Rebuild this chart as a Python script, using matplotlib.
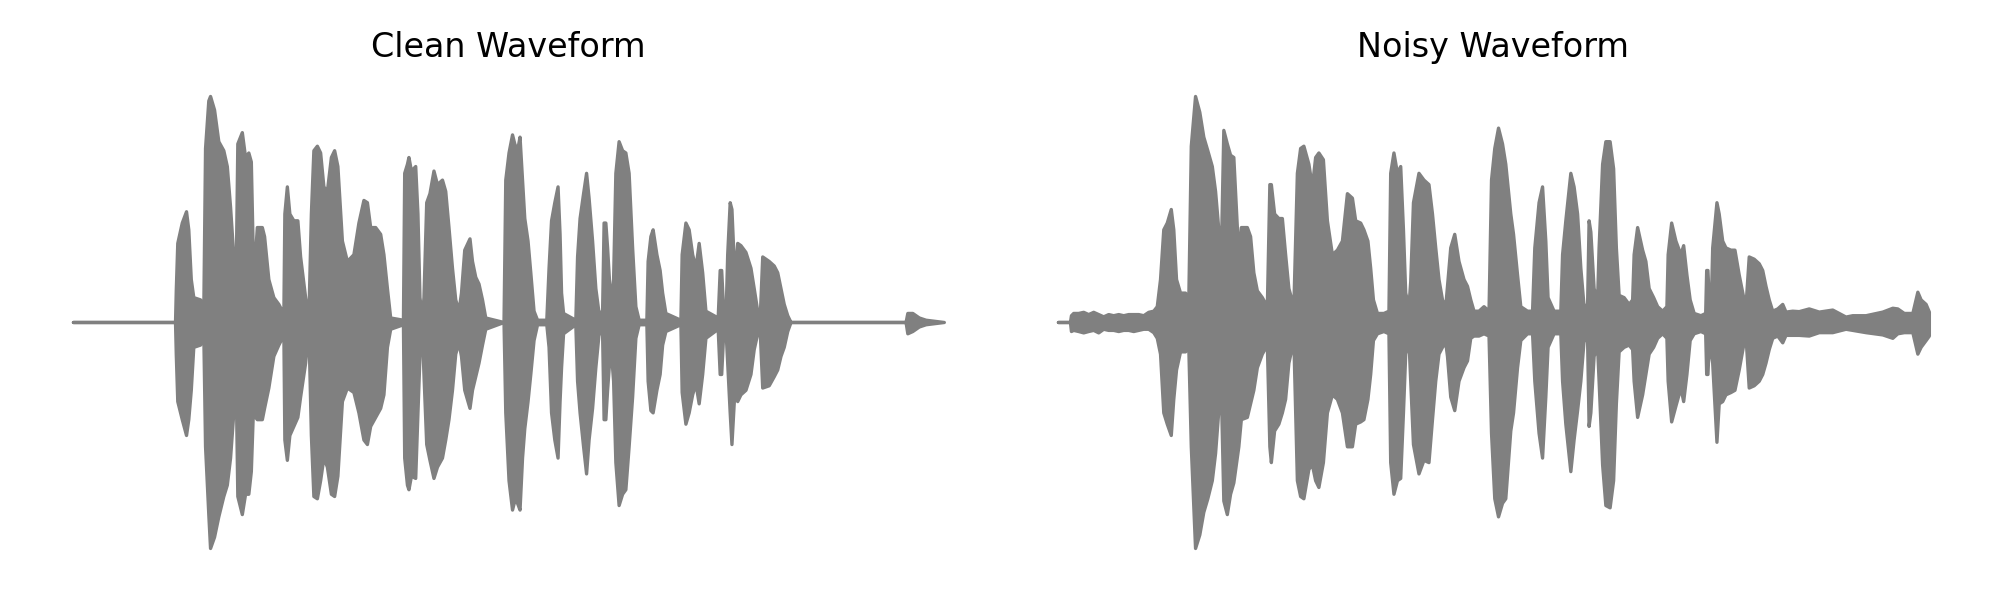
import matplotlib
matplotlib.use("Agg")
import matplotlib.pyplot as plt

# envelope of each recording: time (s), upper and lower amplitude (normalised to the peak)
clean_t = [0.000, 0.408, 0.411, 0.417, 0.435, 0.452, 0.461, 0.471, 0.481, 0.508,
           0.521, 0.528, 0.541, 0.548, 0.564, 0.581, 0.601, 0.615, 0.628, 0.641,
           0.651, 0.657, 0.675, 0.688, 0.701, 0.711, 0.719, 0.728, 0.735, 0.755,
           0.764, 0.781, 0.801, 0.821, 0.835, 0.841, 0.845, 0.855, 0.865, 0.881,
           0.897, 0.908, 0.928, 0.941, 0.951, 0.961, 0.975, 0.988, 1.001, 1.015,
           1.031, 1.044, 1.057, 1.075, 1.095, 1.121, 1.141, 1.161, 1.175, 1.188,
           1.208, 1.228, 1.241, 1.255, 1.268, 1.319, 1.324, 1.335, 1.341, 1.351,
           1.368, 1.377, 1.385, 1.395, 1.401, 1.412, 1.425, 1.441, 1.455, 1.475,
           1.488, 1.501, 1.515, 1.528, 1.541, 1.551, 1.564, 1.585, 1.595, 1.608,
           1.621, 1.635, 1.648, 1.721, 1.728, 1.741, 1.755, 1.764, 1.775, 1.785,
           1.795, 1.804, 1.817, 1.828, 1.841, 1.855, 1.892, 1.901, 1.911, 1.924,
           1.937, 1.945, 1.951, 1.959, 2.008, 2.015, 2.025, 2.039, 2.051, 2.061,
           2.075, 2.088, 2.101, 2.115, 2.121, 2.128, 2.135, 2.148, 2.159, 2.168,
           2.181, 2.195, 2.208, 2.221, 2.235, 2.248, 2.261, 2.292, 2.297, 2.308,
           2.317, 2.332, 2.345, 2.355, 2.368, 2.428, 2.433, 2.448, 2.461, 2.475,
           2.488, 2.501, 2.515, 2.528, 2.577, 2.585, 2.591, 2.599, 2.609, 2.615,
           2.625, 2.632, 2.644, 2.655, 2.668, 2.688, 2.708, 2.721, 2.735, 2.745,
           2.755, 2.781, 2.801, 2.815, 2.828, 2.841, 2.855, 2.868, 3.328, 3.335,
           3.355, 3.381, 3.408, 3.481]
clean_hi = [0.00, 0.00, 0.14, 0.35, 0.44, 0.49, 0.41, 0.19, 0.11, 0.10,
            0.05, 0.77, 0.98, 1.00, 0.94, 0.80, 0.76, 0.69, 0.51, 0.29,
            0.25, 0.79, 0.84, 0.73, 0.75, 0.71, 0.29, 0.30, 0.42, 0.42,
            0.38, 0.19, 0.11, 0.08, 0.05, 0.03, 0.48, 0.60, 0.48, 0.45,
            0.45, 0.29, 0.11, 0.02, 0.48, 0.76, 0.78, 0.75, 0.60, 0.58,
            0.73, 0.76, 0.69, 0.36, 0.27, 0.30, 0.44, 0.54, 0.53, 0.42,
            0.42, 0.39, 0.30, 0.15, 0.02, 0.01, 0.66, 0.70, 0.73, 0.67,
            0.69, 0.48, 0.11, 0.02, 0.11, 0.53, 0.57, 0.67, 0.61, 0.63,
            0.58, 0.42, 0.24, 0.10, 0.05, 0.13, 0.32, 0.37, 0.27, 0.20,
            0.17, 0.10, 0.02, 0.00, 0.63, 0.75, 0.83, 0.79, 0.76, 0.82,
            0.63, 0.46, 0.36, 0.22, 0.05, 0.01, 0.01, 0.24, 0.45, 0.53,
            0.60, 0.39, 0.13, 0.04, 0.01, 0.29, 0.46, 0.57, 0.66, 0.55,
            0.36, 0.15, 0.04, 0.05, 0.44, 0.44, 0.33, 0.08, 0.19, 0.66,
            0.80, 0.76, 0.75, 0.66, 0.33, 0.07, 0.01, 0.01, 0.27, 0.38,
            0.41, 0.30, 0.23, 0.13, 0.04, 0.01, 0.30, 0.44, 0.41, 0.30,
            0.24, 0.35, 0.22, 0.05, 0.02, 0.23, 0.23, 0.05, 0.05, 0.30,
            0.53, 0.50, 0.19, 0.35, 0.34, 0.31, 0.24, 0.15, 0.05, 0.02,
            0.29, 0.27, 0.25, 0.22, 0.15, 0.08, 0.03, 0.00, 0.00, 0.04,
            0.04, 0.02, 0.01, 0.00]
clean_lo = [0.00, 0.00, -0.14, -0.35, -0.43, -0.50, -0.43, -0.30, -0.11, -0.10,
            -0.05, -0.55, -0.85, -1.00, -0.95, -0.86, -0.77, -0.72, -0.60, -0.40,
            -0.30, -0.77, -0.85, -0.76, -0.76, -0.66, -0.40, -0.42, -0.43, -0.43,
            -0.38, -0.29, -0.15, -0.10, -0.07, -0.04, -0.52, -0.61, -0.50, -0.46,
            -0.42, -0.33, -0.18, -0.02, -0.50, -0.77, -0.78, -0.70, -0.60, -0.64,
            -0.76, -0.77, -0.68, -0.35, -0.29, -0.31, -0.40, -0.52, -0.54, -0.46,
            -0.42, -0.38, -0.32, -0.11, -0.03, -0.01, -0.60, -0.72, -0.74, -0.68,
            -0.69, -0.40, -0.15, -0.05, -0.23, -0.54, -0.61, -0.69, -0.64, -0.60,
            -0.52, -0.43, -0.30, -0.14, -0.09, -0.15, -0.30, -0.38, -0.30, -0.24,
            -0.18, -0.10, -0.03, 0.00, -0.40, -0.70, -0.83, -0.79, -0.80, -0.83,
            -0.60, -0.47, -0.35, -0.23, -0.08, -0.01, -0.01, -0.11, -0.40, -0.52,
            -0.60, -0.35, -0.20, -0.05, -0.01, -0.26, -0.40, -0.55, -0.67, -0.52,
            -0.38, -0.20, -0.05, -0.05, -0.43, -0.43, -0.30, -0.10, -0.26, -0.62,
            -0.81, -0.76, -0.74, -0.55, -0.33, -0.07, -0.01, -0.01, -0.26, -0.39,
            -0.40, -0.30, -0.23, -0.10, -0.04, -0.01, -0.31, -0.45, -0.40, -0.32,
            -0.27, -0.36, -0.23, -0.07, -0.03, -0.23, -0.23, -0.05, -0.05, -0.18,
            -0.40, -0.54, -0.30, -0.35, -0.32, -0.30, -0.23, -0.12, -0.05, -0.04,
            -0.29, -0.28, -0.24, -0.21, -0.15, -0.11, -0.04, 0.00, 0.00, -0.05,
            -0.04, -0.02, -0.01, 0.00]

noisy_t = [0.000, 0.048, 0.052, 0.061, 0.081, 0.101, 0.121, 0.141, 0.161, 0.181,
           0.201, 0.221, 0.241, 0.261, 0.281, 0.301, 0.321, 0.341, 0.361, 0.381,
           0.395, 0.408,
           0.421, 0.435, 0.451, 0.461,
           0.472, 0.488, 0.508, 0.521, 0.531, 0.548, 0.565, 0.581, 0.597, 0.615,
           0.628, 0.641, 0.651, 0.661, 0.675, 0.688, 0.701, 0.721, 0.731, 0.755,
           0.768, 0.781, 0.795, 0.815, 0.835, 0.845, 0.851, 0.864, 0.881, 0.895,
           0.908, 0.921, 0.941, 0.955, 0.968, 0.981, 1.001, 1.015, 1.028, 1.041,
           1.059, 1.075, 1.095, 1.115, 1.135, 1.155, 1.175, 1.188, 1.208, 1.221,
           1.237, 1.248, 1.259, 1.275, 1.301, 1.321, 1.328, 1.341, 1.355, 1.368,
           1.379, 1.388, 1.401, 1.408, 1.419, 1.441, 1.461, 1.481, 1.495, 1.508,
           1.521, 1.535, 1.548, 1.555, 1.568, 1.584, 1.601, 1.621, 1.635, 1.648,
           1.661, 1.681, 1.701, 1.721, 1.731, 1.744, 1.759, 1.775, 1.788, 1.808,
           1.819, 1.835, 1.848, 1.875, 1.895, 1.904, 1.921, 1.935, 1.948, 1.957,
           1.981, 2.008, 2.015, 2.028, 2.048, 2.061, 2.075, 2.088, 2.101, 2.115,
           2.121, 2.128, 2.141, 2.155, 2.161, 2.175, 2.188, 2.205, 2.219, 2.230,
           2.241, 2.261, 2.281, 2.295, 2.301, 2.315, 2.335, 2.348, 2.361, 2.379,
           2.395, 2.415, 2.432, 2.437, 2.451, 2.468, 2.488, 2.499, 2.512, 2.525,
           2.541, 2.568, 2.587, 2.591, 2.596, 2.603, 2.611, 2.615, 2.632, 2.641,
           2.655, 2.668, 2.688, 2.704, 2.721, 2.739, 2.748, 2.761, 2.781, 2.801,
           2.815, 2.828, 2.841, 2.855, 2.875, 2.895,
           2.908, 2.935, 2.961, 3.001, 3.041, 3.095, 3.148, 3.175, 3.228, 3.295,
           3.335, 3.355, 3.381, 3.415, 3.435, 3.448, 3.468, 3.481]
noisy_hi = [0.00, 0.00, 0.03, 0.04, 0.04, 0.045, 0.035, 0.045, 0.035, 0.025,
            0.035, 0.03, 0.035, 0.03, 0.035, 0.035, 0.035, 0.03, 0.045, 0.05,
            0.07, 0.19,
            0.41, 0.44, 0.50, 0.41,
            0.19, 0.13, 0.13, 0.10, 0.78, 1.00, 0.93, 0.82, 0.76, 0.69,
            0.58, 0.41, 0.30, 0.85, 0.79, 0.74, 0.73, 0.29, 0.42, 0.42,
            0.38, 0.22, 0.14, 0.11, 0.07, 0.61, 0.61, 0.48, 0.46, 0.46,
            0.30, 0.15, 0.07, 0.66, 0.77, 0.78, 0.70, 0.60, 0.73, 0.75,
            0.72, 0.45, 0.30, 0.32, 0.36, 0.57, 0.55, 0.45, 0.44, 0.41,
            0.36, 0.24, 0.10, 0.04, 0.04, 0.05, 0.66, 0.75, 0.66, 0.69,
            0.41, 0.13, 0.07, 0.18, 0.53, 0.66, 0.63, 0.61, 0.48, 0.33,
            0.19, 0.10, 0.07, 0.16, 0.33, 0.39, 0.27, 0.19, 0.16, 0.10,
            0.05, 0.05, 0.07, 0.05, 0.63, 0.77, 0.86, 0.79, 0.70, 0.48,
            0.39, 0.21, 0.07, 0.05, 0.05, 0.33, 0.53, 0.60, 0.36, 0.11,
            0.05, 0.05, 0.30, 0.45, 0.66, 0.60, 0.48, 0.24, 0.07, 0.08,
            0.45, 0.40, 0.15, 0.10, 0.33, 0.70, 0.80, 0.80, 0.68, 0.33,
            0.12, 0.11, 0.08, 0.10, 0.30, 0.42, 0.32, 0.27, 0.15, 0.11,
            0.07, 0.05, 0.07, 0.30, 0.44, 0.36, 0.30, 0.34, 0.21, 0.10,
            0.04, 0.03, 0.04, 0.23, 0.23, 0.05, 0.15, 0.33, 0.53, 0.48,
            0.36, 0.33, 0.32, 0.32, 0.21, 0.11, 0.07, 0.29, 0.28, 0.26,
            0.23, 0.16, 0.10, 0.05, 0.06, 0.08,
            0.046, 0.05, 0.048, 0.06, 0.046, 0.055, 0.024, 0.03, 0.03, 0.046,
            0.063, 0.06, 0.04, 0.04, 0.134, 0.10, 0.08, 0.046]
noisy_lo = [0.00, 0.00, -0.04, -0.035, -0.04, -0.046, -0.04, -0.035, -0.046, -0.03,
            -0.035, -0.035, -0.04, -0.035, -0.035, -0.04, -0.035, -0.03, -0.03, -0.045,
            -0.07, -0.14,
            -0.40, -0.45, -0.50, -0.34,
            -0.21, -0.13, -0.13, -0.11, -0.55, -1.00, -0.94, -0.84, -0.78, -0.70,
            -0.58, -0.39, -0.30, -0.79, -0.85, -0.76, -0.71, -0.55, -0.43, -0.42,
            -0.36, -0.30, -0.20, -0.14, -0.10, -0.55, -0.62, -0.48, -0.45, -0.40,
            -0.34, -0.18, -0.08, -0.70, -0.77, -0.78, -0.65, -0.63, -0.70, -0.73,
            -0.62, -0.40, -0.32, -0.34, -0.40, -0.55, -0.55, -0.45, -0.44, -0.43,
            -0.34, -0.23, -0.08, -0.05, -0.04, -0.05, -0.62, -0.76, -0.70, -0.69,
            -0.40, -0.14, -0.08, -0.26, -0.54, -0.67, -0.61, -0.62, -0.43, -0.26,
            -0.14, -0.11, -0.09, -0.15, -0.33, -0.39, -0.26, -0.20, -0.17, -0.07,
            -0.06, -0.06, -0.05, -0.06, -0.49, -0.78, -0.86, -0.80, -0.78, -0.48,
            -0.40, -0.20, -0.08, -0.05, -0.05, -0.26, -0.49, -0.60, -0.33, -0.11,
            -0.05, -0.05, -0.26, -0.45, -0.66, -0.52, -0.39, -0.26, -0.08, -0.08,
            -0.46, -0.40, -0.15, -0.11, -0.26, -0.63, -0.81, -0.82, -0.70, -0.36,
            -0.13, -0.11, -0.10, -0.12, -0.26, -0.42, -0.32, -0.23, -0.14, -0.11,
            -0.07, -0.05, -0.07, -0.26, -0.44, -0.37, -0.29, -0.35, -0.23, -0.08,
            -0.05, -0.04, -0.05, -0.23, -0.23, -0.05, -0.15, -0.18, -0.53, -0.36,
            -0.35, -0.32, -0.31, -0.30, -0.21, -0.10, -0.06, -0.29, -0.28, -0.26,
            -0.23, -0.18, -0.12, -0.07, -0.06, -0.09,
            -0.057, -0.057, -0.057, -0.06, -0.045, -0.045, -0.03, -0.035, -0.045, -0.055,
            -0.07, -0.05, -0.045, -0.045, -0.14, -0.11, -0.08, -0.06]

panel_titles = ["Clean Waveform", "Noisy Waveform"]
wave_color = "gray"


def draw_waveform(ax, t, hi, lo, title):
    ax.fill_between(t, lo, hi, facecolor=wave_color, edgecolor=wave_color,
                    linewidth=2.4, joinstyle="round", clip_on=False)
    ax.set_title(title, fontsize=24, pad=11.5)
    ax.axis("off")


def main():
    fig = plt.figure(figsize=(20, 6), dpi=100)
    # axes boxes (figure fraction) matching the reference layout
    ax_clean = fig.add_axes([0.0147, 0.049, 0.479, 0.8287])
    ax_noisy = fig.add_axes([0.5072, 0.049, 0.479, 0.8287])
    draw_waveform(ax_clean, clean_t, clean_hi, clean_lo, panel_titles[0])
    draw_waveform(ax_noisy, noisy_t, noisy_hi, noisy_lo, panel_titles[1])
    fig.savefig("out.png", dpi=100)


if __name__ == "__main__":
    main()
